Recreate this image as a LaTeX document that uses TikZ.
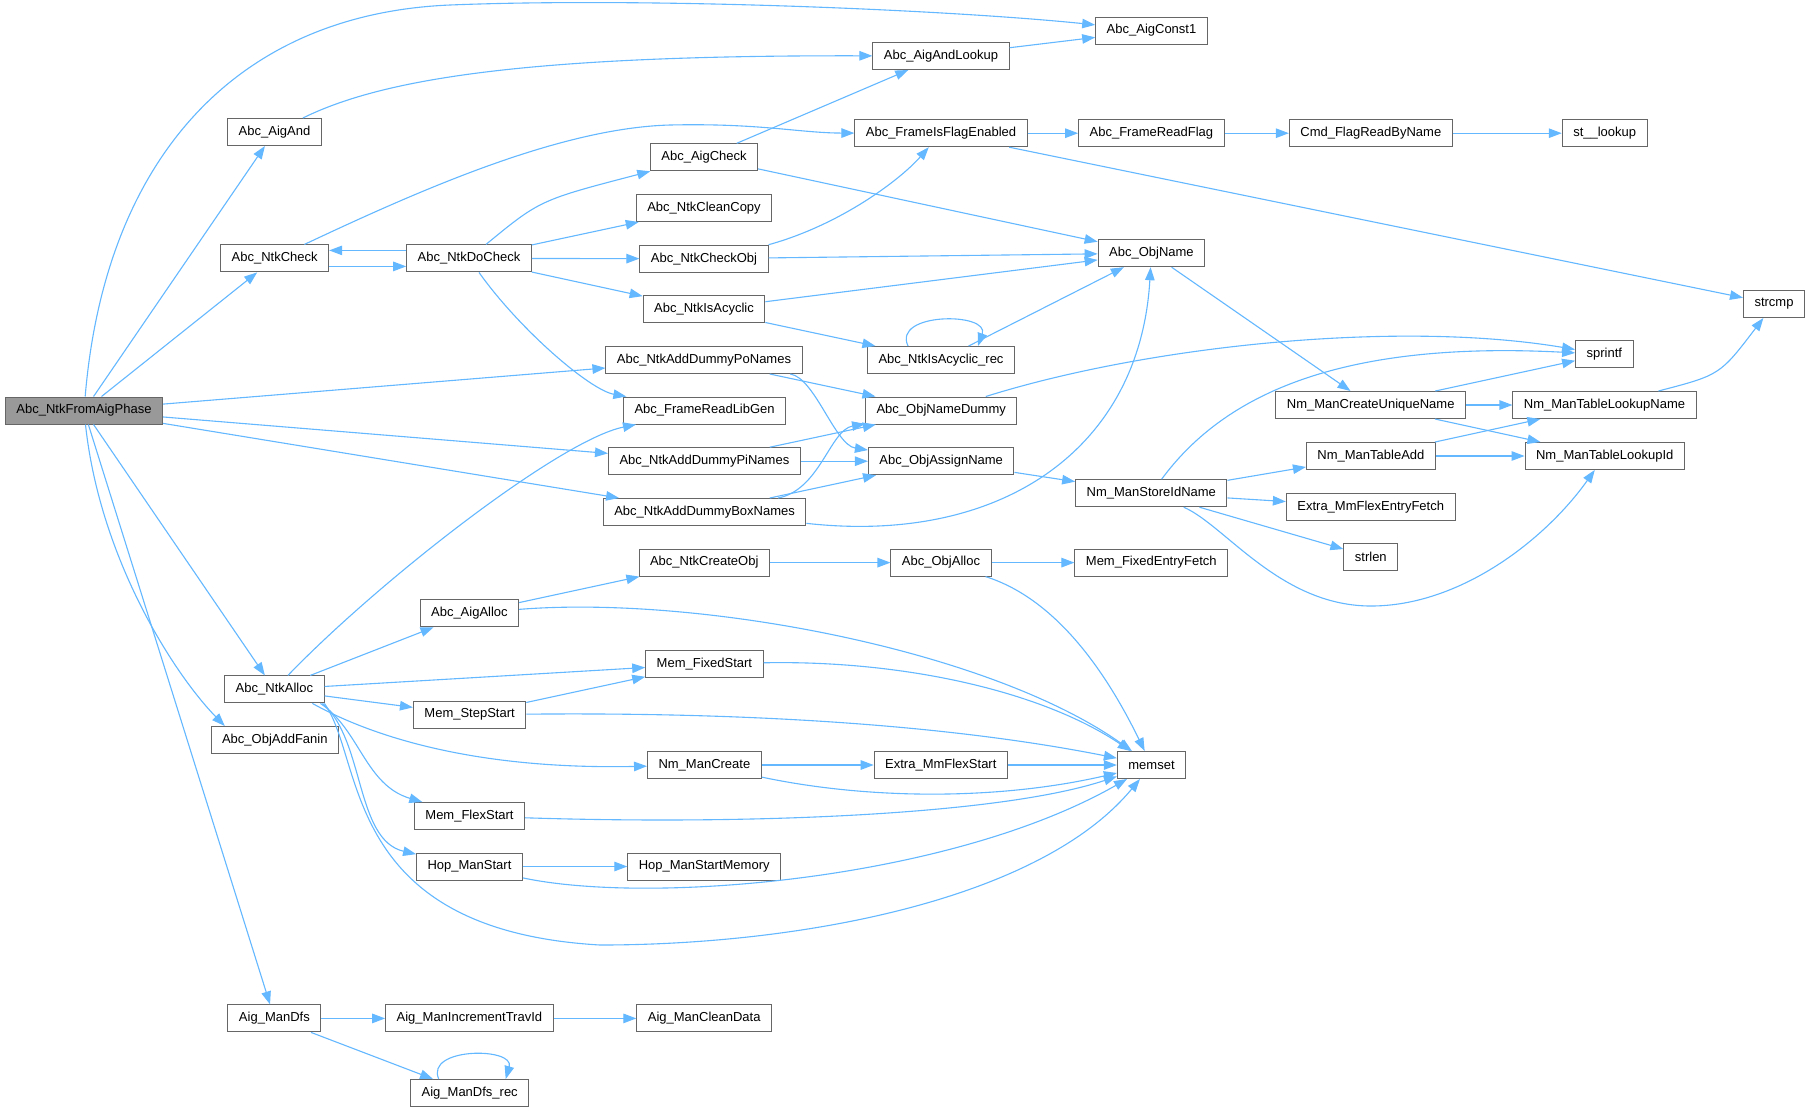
\documentclass[tikz,border=0pt]{standalone}
\usepackage{fontspec}
\setmainfont{Liberation Sans}
\usetikzlibrary{arrows.meta}
\definecolor{edgeblue}{HTML}{63B8FF}
\definecolor{boxline}{HTML}{666666}
\definecolor{rootfill}{HTML}{999999}

\begin{document}
\begin{tikzpicture}[x=1pt, y=-1pt, font=\fontsize{13}{15}\selectfont,
  f/.style={draw=boxline, line width=1pt, fill=white, inner xsep=11pt, inner ysep=0pt,
            minimum height=27pt},
  root/.style={f, fill=rootfill},
  a/.style={-{Triangle[length=13pt,width=9.5pt]}, draw=edgeblue, line width=1.1pt}]
  \fill[white] (0,0) rectangle (1811,1112);
  \useasboundingbox (0,0) rectangle (1811,1112);
  % column 0 and 1
  \node[root] (phase)  at (84,410.5)    {Abc\_NtkFromAigPhase};
  \node[f] (aigand)    at (274.5,132)   {Abc\_AigAnd};
  \node[f] (ntkchk)    at (274.7,258.4) {Abc\_NtkCheck};
  \node[f] (ntkalloc)  at (274.4,689.4) {Abc\_NtkAlloc};
  \node[f] (addfanin)  at (274.8,740)   {Abc\_ObjAddFanin};
  \node[f] (dfs)       at (274.4,1018.4){Aig\_ManDfs};
  % column 2
  \node[f] (dochk)     at (469,258.4)   {Abc\_NtkDoCheck};
  \node[f] (aigalloc)  at (469.4,613.3) {Abc\_AigAlloc};
  \node[f] (stepstart) at (469.6,714.7) {Mem\_StepStart};
  \node[f] (flexstart) at (469.5,816)   {Mem\_FlexStart};
  \node[f] (hopstart)  at (469.5,866.5) {Hop\_ManStart};
  \node[f] (travid)    at (469.4,1018.4){Aig\_ManIncrementTravId};
  \node[f] (dfsrec)    at (469.7,1093)  {Aig\_ManDfs\_rec};
  % column 3
  \node[f] (aigchk)    at (704,157.3)   {Abc\_AigCheck};
  \node[f] (clncopy)   at (704,208)     {Abc\_NtkCleanCopy};
  \node[f] (chkobj)    at (704,258.7)   {Abc\_NtkCheckObj};
  \node[f] (acyc)      at (704,309.4)   {Abc\_NtkIsAcyclic};
  \node[f] (poname)    at (704,360)     {Abc\_NtkAddDummyPoNames};
  \node[f] (libgen)    at (704.6,410.5) {Abc\_FrameReadLibGen};
  \node[f] (piname)    at (704.4,461.2) {Abc\_NtkAddDummyPiNames};
  \node[f] (boxname)   at (704.6,512)   {Abc\_NtkAddDummyBoxNames};
  \node[f] (createobj) at (704.2,562.6) {Abc\_NtkCreateObj};
  \node[f] (fixstart)  at (704.4,664)   {Mem\_FixedStart};
  \node[f] (nmcreate)  at (704.4,765)   {Nm\_ManCreate};
  \node[f] (hopmem)    at (704.2,866.5) {Hop\_ManStartMemory};
  \node[f] (cleandata) at (704.2,1018.4){Aig\_ManCleanData};
  % column 4
  \node[f] (andlk)     at (941,56)      {Abc\_AigAndLookup};
  \node[f] (flagen)    at (941,133.2)   {Abc\_FrameIsFlagEnabled};
  \node[f] (acycrec)   at (941,360)     {Abc\_NtkIsAcyclic\_rec};
  \node[f] (namedum)   at (941.2,410.5) {Abc\_ObjNameDummy};
  \node[f] (assign)    at (941.2,461.2) {Abc\_ObjAssignName};
  \node[f] (objalloc)  at (941,562.6)   {Abc\_ObjAlloc};
  \node[f] (mmflex)    at (940.8,765)   {Extra\_MmFlexStart};
  % column 5
  \node[f] (const1)    at (1151.5,30.6) {Abc\_AigConst1};
  \node[f] (rdflag)    at (1151.4,133.2){Abc\_FrameReadFlag};
  \node[f] (objname)   at (1151.4,253.2){Abc\_ObjName};
  \node[f] (storeid)   at (1151.3,493.2){Nm\_ManStoreIdName};
  \node[f] (fixfetch)  at (1151.3,562.6){Mem\_FixedEntryFetch};
  \node[f] (memset)    at (1151.5,765)  {memset};
  % column 6 to 8
  \node[f] (cmdflag)   at (1370.8,133.2){Cmd\_FlagReadByName};
  \node[f] (uniq)      at (1370.7,405)  {Nm\_ManCreateUniqueName};
  \node[f] (tbladd)    at (1370.9,456)  {Nm\_ManTableAdd};
  \node[f] (flexfetch) at (1370.7,506.8){Extra\_MmFlexEntryFetch};
  \node[f] (strlen)    at (1370.8,557)  {strlen};
  \node[f] (stlk)      at (1604.7,133.2){st\_\_lookup};
  \node[f] (sprintf)   at (1604.3,354.4){sprintf};
  \node[f] (lkname)    at (1604.5,405)  {Nm\_ManTableLookupName};
  \node[f] (lkid)      at (1604.7,456)  {Nm\_ManTableLookupId};
  \node[f] (strcmp)    at (1774,304)    {strcmp};

  % calls of Abc_NtkFromAigPhase
  \draw[a] (phase) .. controls (105,160) and (235,14) .. (450,5)
                   .. controls (650,-3) and (950,10) .. (const1);
  \draw[a] (phase) -- (aigand);
  \draw[a] (phase) -- (ntkchk);
  \draw[a] (phase) -- (poname);
  \draw[a] (phase) -- (piname);
  \draw[a] (phase) -- (boxname);
  \draw[a] (phase) -- (ntkalloc);
  \draw[a] (phase) .. controls (100,560) and (175,675) .. ([xshift=-50pt]addfanin.north);
  \draw[a] (phase) -- (dfs);

  \draw[a] (aigand) .. controls (380,80) and (520,55) .. (andlk);
  \draw[a] (andlk) -- (const1);
  \draw[a] (ntkchk) .. controls (420,190) and (560,128) .. (670,125)
                    .. controls (760,123) and (800,133) .. (flagen);
  \draw[a] ([yshift=-8pt]ntkchk.east) -- ([yshift=-8pt]dochk.west);
  \draw[a] ([yshift=8pt]dochk.west) -- ([yshift=8pt]ntkchk.east);

  \draw[a] (dochk) .. controls (540,200) .. (aigchk);
  \draw[a] (dochk) -- (clncopy);
  \draw[a] (dochk) -- (chkobj);
  \draw[a] (dochk) -- (acyc);
  \draw[a] (dochk) .. controls (520,330) and (590,390) .. (libgen);

  \draw[a] (aigchk) -- (andlk);
  \draw[a] (aigchk) -- (objname);
  \draw[a] (chkobj.north east) .. controls (840,225) and (900,180) .. (flagen);
  \draw[a] (chkobj) -- (objname);
  \draw[a] (acyc) -- (objname);
  \draw[a] (acyc) -- (acycrec);
  \draw[a] ([xshift=-33pt]acycrec.north) .. controls (892,312) and (990,312) .. ([xshift=37pt]acycrec.north);
  \draw[a] (acycrec) -- (objname);

  \draw[a] (poname) -- (namedum);
  \draw[a] (poname) .. controls (815,378) and (835,445) .. (assign);
  \draw[a] (piname) -- (namedum);
  \draw[a] (piname) -- (assign);
  \draw[a] (boxname) .. controls (820,490) and (830,430) .. (namedum);
  \draw[a] (boxname) -- (assign);
  \draw[a] (boxname) .. controls (1000,545) and (1140,450) .. (objname);

  \draw[a] (flagen) -- (rdflag);
  \draw[a] (flagen) -- (strcmp);
  \draw[a] (rdflag) -- (cmdflag);
  \draw[a] (cmdflag) -- (stlk);

  \draw[a] (objname) -- (uniq);
  \draw[a] (namedum) .. controls (1150,345) and (1400,320) .. (sprintf);
  \draw[a] (assign) -- (storeid);
  \draw[a] (storeid) .. controls (1220,400) and (1330,340) .. (sprintf);
  \draw[a] (storeid) -- (tbladd);
  \draw[a] (storeid) -- (flexfetch);
  \draw[a] (storeid) -- (strlen);
  \draw[a] (storeid) .. controls (1225,525) and (1280,606) .. (1371,606)
                     .. controls (1460,606) and (1545,540) .. (lkid);
  \draw[a] (uniq) -- (sprintf);
  \draw[a] (uniq) -- (lkname);
  \draw[a] (uniq) -- (lkid);
  \draw[a] (tbladd) -- (lkname);
  \draw[a] (tbladd) -- (lkid);
  \draw[a] (lkname) .. controls (1720,375) .. (strcmp);

  % calls of Abc_NtkAlloc
  \draw[a] (ntkalloc) .. controls (380,580) and (560,440) .. (libgen);
  \draw[a] (ntkalloc) -- (aigalloc);
  \draw[a] (ntkalloc) -- (fixstart);
  \draw[a] (ntkalloc) -- (stepstart);
  \draw[a] ([xshift=38pt]ntkalloc.south) .. controls (360,730) and (460,770) .. (nmcreate);
  \draw[a] ([xshift=46pt]ntkalloc.south) .. controls (360,730) and (365,785) .. (flexstart);
  \draw[a] ([xshift=48pt]ntkalloc.south) .. controls (365,740) and (355,840) .. (hopstart);
  \draw[a] ([xshift=50pt]ntkalloc.south) .. controls (365,760) and (340,930) .. (600,945)
                                         .. controls (800,945) and (1040,900) .. (memset);

  \draw[a] (aigalloc) -- (createobj);
  \draw[a] (aigalloc) .. controls (700,595) and (990,650) .. (memset);
  \draw[a] (createobj) -- (objalloc);
  \draw[a] (objalloc) -- (fixfetch);
  \draw[a] (objalloc) .. controls (1060,600) and (1110,680) .. (memset);
  \draw[a] (fixstart) .. controls (900,660) and (1040,690) .. (memset);
  \draw[a] (stepstart) -- (fixstart);
  \draw[a] (stepstart) .. controls (750,712) and (950,725) .. (memset);
  \draw[a] (nmcreate) -- (mmflex);
  \draw[a] (nmcreate) .. controls (870,800) and (1000,800) .. (memset);
  \draw[a] (mmflex) -- (memset);
  \draw[a] (flexstart) .. controls (750,825) and (1000,815) .. (memset);
  \draw[a] (hopstart) -- (hopmem);
  \draw[a] (hopstart) .. controls (650,905) and (950,880) .. (memset);

  \draw[a] (dfs) -- (travid);
  \draw[a] (dfs) -- (dfsrec);
  \draw[a] (travid) -- (cleandata);
  \draw[a] ([xshift=-31pt]dfsrec.north) .. controls (425,1047) and (515,1047) .. ([xshift=36pt]dfsrec.north);
\end{tikzpicture}
\end{document}
